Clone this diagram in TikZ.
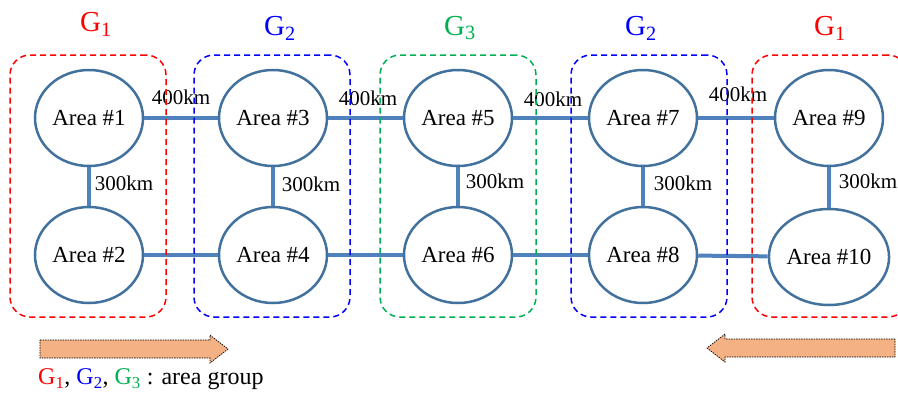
\documentclass[tikz,border=0pt]{standalone}
\usepackage{fontspec}
\setmainfont{Liberation Serif}
\usetikzlibrary{shapes.geometric}

\definecolor{arealine}{RGB}{65,113,156}
\definecolor{linkline}{RGB}{79,129,189}
\definecolor{grpgreen}{RGB}{0,176,80}
\definecolor{flowfill}{RGB}{244,177,131}

\newcommand{\gname}[1]{G\textsubscript{#1}}

\begin{document}
\begin{tikzpicture}[x=1pt, y=-1pt,
    area/.style={ellipse, draw=arealine, line width=2.5pt, fill=white,
        minimum width=108pt, minimum height=96pt, inner sep=0pt,
        font=\fontsize{23}{27}\selectfont},
    link/.style={draw=linkline, line width=4pt},
    dist/.style={font=\fontsize{21}{24}\selectfont, inner sep=0pt},
    grp/.style={rectangle, rounded corners=20pt, line width=1.5pt,
        dash pattern=on 6pt off 4pt, minimum width=156pt, minimum height=262pt},
    glabel/.style={font=\fontsize{29}{32}\selectfont},
    flow/.style={draw=black, fill=flowfill, line width=0.7pt,
        dash pattern=on 1.5pt off 1pt}]
    \useasboundingbox (0,0) rectangle (898,392);

    % areas
    \node[area] (a1)  at (89, 118)  {Area \#1};
    \node[area] (a2)  at (89, 255)  {Area \#2};
    \node[area] (a3)  at (273, 118) {Area \#3};
    \node[area] (a4)  at (273, 255) {Area \#4};
    \node[area] (a5)  at (458, 118) {Area \#5};
    \node[area] (a6)  at (458, 255) {Area \#6};
    \node[area] (a7)  at (643, 118) {Area \#7};
    \node[area] (a8)  at (643, 255) {Area \#8};
    \node[area] (a9)  at (829, 118) {Area \#9};
    \node[area] (a10) at (829, 257) {Area \#10};

    % links between areas
    \draw[link] (a1) -- (a3);
    \draw[link] (a3) -- (a5);
    \draw[link] (a5) -- (a7);
    \draw[link] (a7) -- (a9);
    \draw[link] (a2) -- (a4);
    \draw[link] (a4) -- (a6);
    \draw[link] (a6) -- (a8);
    \draw[link] (a8) -- (a10);
    \draw[link] (a1) -- (a2);
    \draw[link] (a3) -- (a4);
    \draw[link] (a5) -- (a6);
    \draw[link] (a7) -- (a8);
    \draw[link] (a9) -- (a10);

    % distances
    \node[dist] (d13)  at (181, 97)  {400km};
    \node[dist] (d35)  at (368, 98)  {400km};
    \node[dist] (d57)  at (553, 99)  {400km};
    \node[dist] (d79)  at (738, 94)  {400km};
    \node[dist] (d12)  at (124, 183) {300km};
    \node[dist] (d34)  at (311, 184) {300km};
    \node[dist] (d56)  at (495, 181) {300km};
    \node[dist] (d78)  at (683, 183) {300km};
    \node[dist] (d910) at (868, 181) {300km};

    % area groups
    \node[grp, draw=red]       (grpA) at (88, 186)  {};
    \node[grp, draw=blue]      (grpB) at (272, 186) {};
    \node[grp, draw=grpgreen]  (grpC) at (458, 186) {};
    \node[grp, draw=blue]      (grpD) at (649, 186) {};
    \node[grp, draw=red]       (grpE) at (830, 186) {};

    \node[glabel, text=red]      (lA) at (96, 24)  {\gname{1}};
    \node[glabel, text=blue]     (lB) at (280, 28) {\gname{2}};
    \node[glabel, text=grpgreen] (lC) at (460, 28) {\gname{3}};
    \node[glabel, text=blue]     (lD) at (641, 28) {\gname{2}};
    \node[glabel, text=red]      (lE) at (830, 28) {\gname{1}};

    % direction arrows
    \draw[flow] (40,340) -- (210,340) -- (210,335) -- (228,349) -- (210,363)
        -- (210,358) -- (40,358) -- cycle;
    \draw[flow] (895,339) -- (725,339) -- (725,334) -- (707,348) -- (725,362)
        -- (725,357) -- (895,357) -- cycle;

    % legend
    \node[anchor=west, inner sep=0pt, font=\fontsize{24}{28}\selectfont] (legend) at (38, 379)
        {\textcolor{red}{\gname{1}}, \textcolor{blue}{\gname{2}}, \textcolor{grpgreen}{\gname{3}} : area group};
\end{tikzpicture}
\end{document}
